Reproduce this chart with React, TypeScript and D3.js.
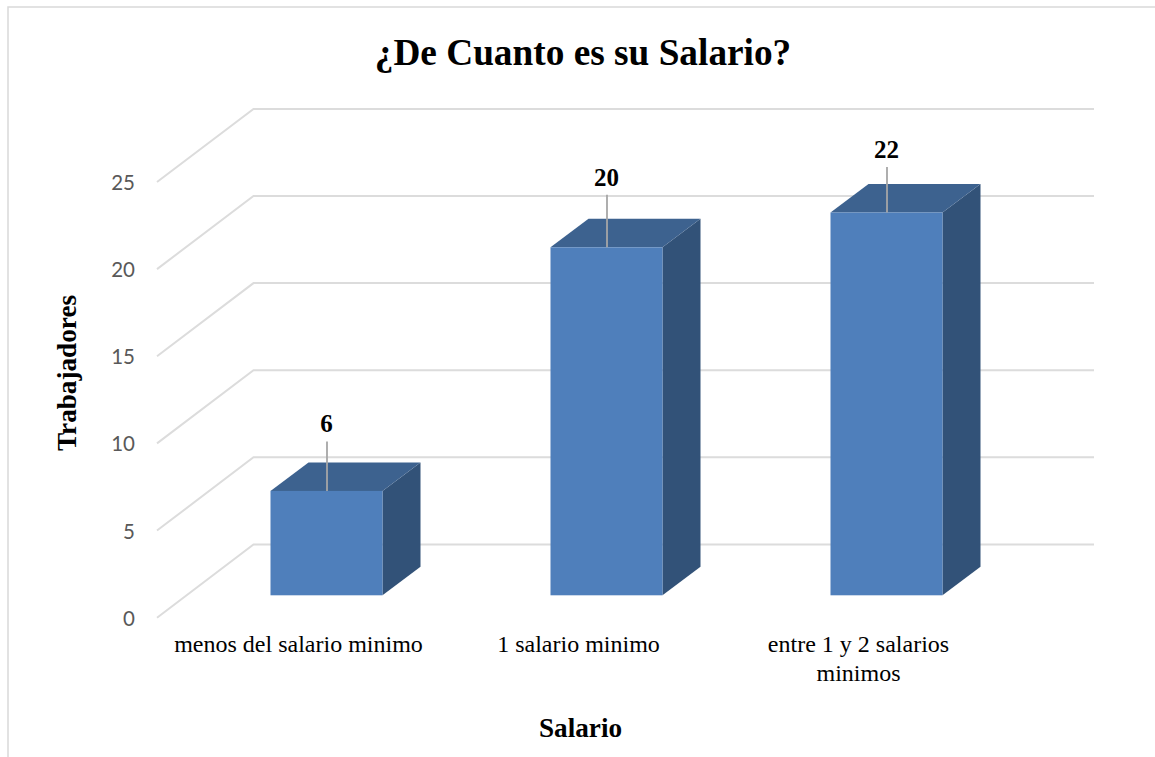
import React from "react";
import * as d3 from "d3";

const categories = ["menos del salario minimo", "1 salario minimo", "entre 1 y 2 salarios minimos"];
const categoryLines = [["menos del salario minimo"], ["1 salario minimo"], ["entre 1 y 2 salarios", "minimos"]];
const values = [6, 20, 22];
const ticks = [0, 5, 10, 15, 20, 25];
const title = "¿De Cuanto es su Salario?";
const xTitle = "Salario";
const yTitle = "Trabajadores";

const SERIF = "'Liberation Serif', serif";
const SANS = "Lato, sans-serif";
const W = 1155, H = 757;

const yFloor = d3.scaleLinear().domain([0, 25]).range([617.7, 182]);
const yBack = d3.scaleLinear().domain([0, 25]).range([544.4, 108.9]);
const yBar = d3.scaleLinear().domain([0, 25]).range([595.3, 160.3]);
const xBand = d3.scaleBand<string>().domain(categories).range([186.5, 1026.5]).paddingInner(0.6).paddingOuter(0.3);
const gridLeft = 157, gridMid = 253.5, gridRight = 1094;
const barDx = 38, barDy = -28.5;
// hand-placed data labels: leader length above the bar's back edge
const leaderRise = [21, 24, 17];

export default function App() {
  const bw = xBand.bandwidth();
  return (
    <svg width={W} height={H} viewBox={`0 0 ${W} ${H}`} style={{ position: "absolute", left: 0, top: 0, background: "#fff" }}>
      <path d={`M8,${H}V7H${W}`} fill="none" stroke="#d9d9d9" strokeWidth={1.5} />
      <text x={583} y={65} textAnchor="middle" fontFamily={SERIF} fontWeight={700} fontSize={37.3}>{title}</text>
      {ticks.map(t => (
        <g key={t}>
          <path
            d={`M${gridLeft},${yFloor(t)}L${gridMid},${yBack(t)}H${gridRight}`}
            fill="none" stroke="#dcdcdc" strokeWidth={2}
          />
          <text x={135} y={yFloor(t) + 8} textAnchor="end" fontFamily={SANS} fontSize={20.5} fill="#595959">{t}</text>
        </g>
      ))}
      {categories.map((c, i) => {
        const x = xBand(c)!;
        const y0 = yBar(0), y1 = yBar(values[i]);
        const cx = x + bw / 2;
        const top = y1 + barDy - leaderRise[i];
        return (
          <g key={c}>
            <path d={`M${x + bw},${y1}L${x + bw + barDx},${y1 + barDy}V${y0 + barDy}L${x + bw},${y0}Z`} fill="#325278" />
            <path d={`M${x},${y1}L${x + barDx},${y1 + barDy}H${x + bw + barDx}L${x + bw},${y1}Z`} fill="#3d628f" />
            <rect x={x} y={y1} width={bw} height={y0 - y1} fill="#4f7fbb" />
            <line x1={cx + 0.5} x2={cx + 0.5} y1={y1} y2={top} stroke="#a6a6a6" strokeWidth={1.8} />
            <text x={cx} y={top - 9} textAnchor="middle" fontFamily={SERIF} fontWeight={700} fontSize={25}>{values[i]}</text>
            {categoryLines[i].map((l, j) => (
              <text key={l} x={cx - 28} y={652 + j * 29} textAnchor="middle" fontFamily={SERIF} fontSize={24}>{l}</text>
            ))}
          </g>
        );
      })}
      <text x={580.5} y={737} textAnchor="middle" fontFamily={SERIF} fontWeight={700} fontSize={27.2}>{xTitle}</text>
      <text transform="translate(76,373) rotate(-90)" textAnchor="middle" fontFamily={SERIF} fontWeight={700} fontSize={27.2}>{yTitle}</text>
    </svg>
  );
}
